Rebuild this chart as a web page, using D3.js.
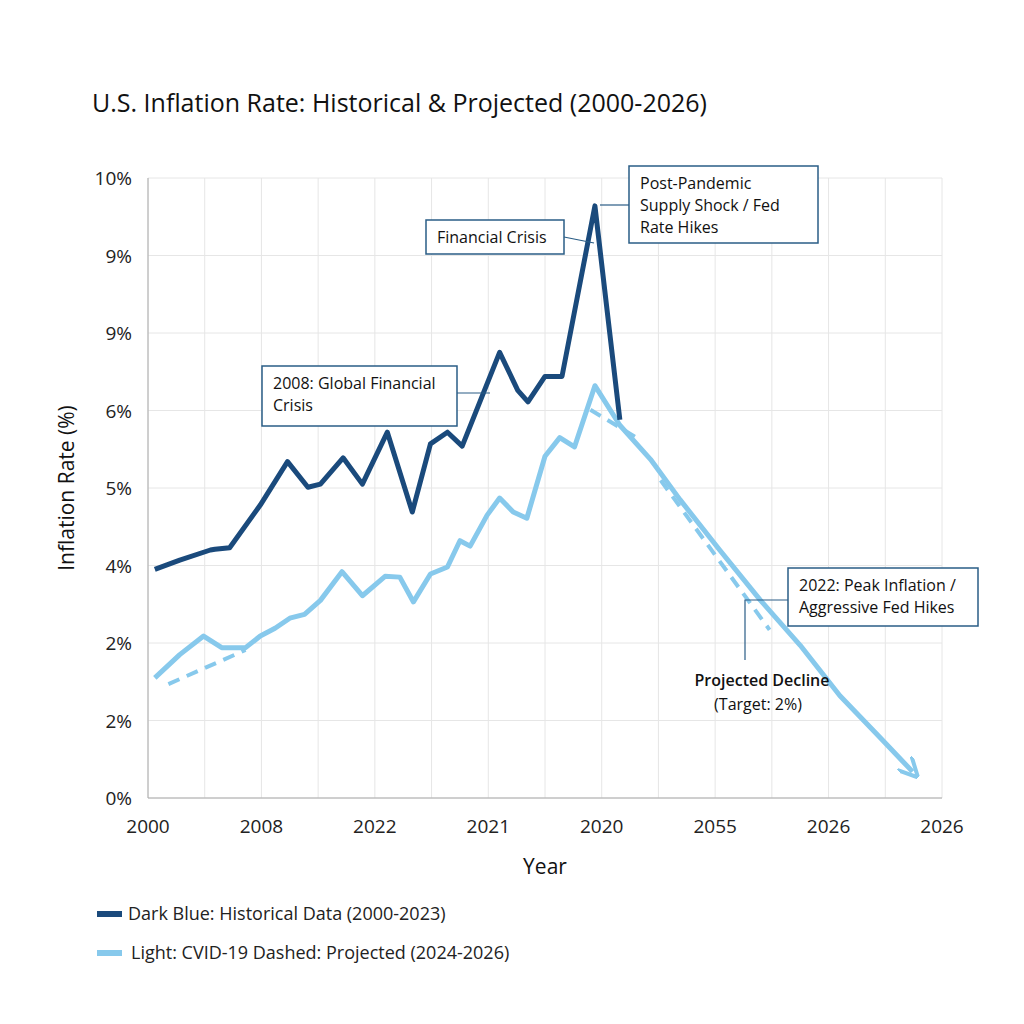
<!DOCTYPE html><html><head><meta charset="utf-8"><script src="https://cdn.jsdelivr.net/npm/d3@7"></script>
<style>body{margin:0;background:#fff;font-family:"Open Sans",sans-serif}</style></head><body><svg id="c" width="1024" height="1024"></svg>
<script>
const yTickLabels=["0%","2%","2%","4%","5%","6%","9%","9%","10%"];
const xTickLabels=["2000","2008","2022","2021","2020","2055","2026","2026"];
// x in tick-index units, y in tick-index units
const histX=[0.06,0.28,0.55,0.59,0.72,0.99,1.23,1.41,1.52,1.72,1.89,2.11,2.33,2.49,2.64,2.77,3.10,3.26,3.35,3.50,3.65,3.94,4.16];
const histY=[2.95,3.07,3.2,3.21,3.23,3.78,4.34,4.01,4.05,4.39,4.05,4.72,3.69,4.57,4.72,4.54,5.75,5.26,5.11,5.44,5.44,7.64,4.88];
const projX=[0.06,0.28,0.49,0.65,0.86,0.99,1.12,1.25,1.38,1.52,1.71,1.89,2.09,2.22,2.34,2.49,2.64,2.75,2.84,2.99,3.10,3.22,3.34,3.50,3.63,3.76,3.94,4.16,4.43,4.69,5.04,5.40,5.75,6.10,6.46,6.74];
const projY=[1.55,1.85,2.09,1.94,1.94,2.09,2.19,2.32,2.37,2.55,2.92,2.61,2.86,2.85,2.53,2.89,2.98,3.32,3.25,3.65,3.87,3.69,3.61,4.41,4.65,4.53,5.32,4.81,4.37,3.85,3.2,2.55,1.97,1.32,0.77,0.34];
const dashSegs=[[[0.18,1.47],[0.86,1.91]],[[3.90,5.01],[4.34,4.62]],[[4.52,4.10],[5.48,2.17]]];
const svg=d3.select("#c");
const x=d3.scaleLinear().domain([0,7]).range([148,942]);
const y=d3.scaleLinear().domain([0,8]).range([798,178]);
const g=svg.append("g");
// grid
for(let i=0;i<=14;i++){g.append("line").attr("x1",x(i/2)).attr("x2",x(i/2)).attr("y1",178).attr("y2",798).attr("stroke","#e6e6e6");}
for(let i=0;i<=8;i++){g.append("line").attr("x1",148).attr("x2",942).attr("y1",y(i)).attr("y2",y(i)).attr("stroke","#e6e6e6");}
g.append("line").attr("x1",148).attr("x2",148).attr("y1",178).attr("y2",798).attr("stroke","#aaa");
g.append("line").attr("x1",148).attr("x2",942).attr("y1",798).attr("y2",798).attr("stroke","#aaa");
yTickLabels.forEach((t,i)=>g.append("text").attr("x",132).attr("y",y(i)+7).attr("text-anchor","end").attr("font-size",19).attr("fill","#222").text(t));
xTickLabels.forEach((t,i)=>g.append("text").attr("x",x(i)).attr("y",833).attr("text-anchor","middle").attr("font-size",19).attr("fill","#222").text(t));
svg.append("text").attr("x",92).attr("y",112).attr("font-size",25).attr("font-weight",500).attr("fill","#111").text("U.S. Inflation Rate: Historical & Projected (2000-2026)");
svg.append("text").attr("transform","translate(74,488) rotate(-90)").attr("text-anchor","middle").attr("font-size",21).attr("fill","#111").text("Inflation Rate (%)");
svg.append("text").attr("x",545).attr("y",874).attr("text-anchor","middle").attr("font-size",21).attr("fill","#111").text("Year");
const line=d3.line().x(d=>x(d[0])).y(d=>y(d[1]));
svg.append("defs").append("marker").attr("id","ar").attr("viewBox","0 0 10 10").attr("refX",6).attr("refY",5).attr("markerWidth",4).attr("markerHeight",4).attr("orient","auto").append("path").attr("d","M0,0L10,5L0,10").attr("fill","none").attr("stroke","#87c9ec").attr("stroke-width",2);
dashSegs.forEach(s=>svg.append("path").attr("d",line(s)).attr("stroke","#87c9ec").attr("stroke-width",4).attr("stroke-dasharray","12,8").attr("fill","none"));
svg.append("path").attr("d",line(projX.map((v,i)=>[v,projY[i]]))).attr("stroke","#87c9ec").attr("stroke-width",5).attr("fill","none").attr("stroke-linejoin","round").attr("marker-end","url(#ar)");
svg.append("path").attr("d",line(histX.map((v,i)=>[v,histY[i]]))).attr("stroke","#1a4a7c").attr("stroke-width",5).attr("fill","none").attr("stroke-linejoin","round");
function box(x0,y0,w,h,lines,fs,conn){
  svg.append("rect").attr("x",x0).attr("y",y0).attr("width",w).attr("height",h).attr("fill","#fff").attr("stroke","#2a5d86").attr("stroke-width",1.5);
  lines.forEach((t,i)=>svg.append("text").attr("x",x0+11).attr("y",y0+23+i*22).attr("font-size",fs).attr("fill","#111").text(t));
  if(conn) svg.append("path").attr("d",conn).attr("stroke","#2a5d86").attr("stroke-width",1.2).attr("fill","none");
}
box(426,220,138,34,["Financial Crisis"],16,"M564,237L594,243");
box(629,166,189,77,["Post-Pandemic","Supply Shock / Fed","Rate Hikes"],16,"M629,205L600,205");
box(262,366,195,60,["2008: Global Financial","Crisis"],16,"M457,393L490,393");
box(788,568,190,58,["2022: Peak Inflation /","Aggressive Fed Hikes"],16,"M788,600L745,600L745,660");
svg.append("text").attr("x",762).attr("y",686).attr("text-anchor","middle").attr("font-size",16).attr("font-weight",bold="600").attr("fill","#111").text("Projected Decline");
svg.append("text").attr("x",758).attr("y",710).attr("text-anchor","middle").attr("font-size",16).attr("fill","#111").text("(Target: 2%)");
svg.append("line").attr("x1",97).attr("x2",122).attr("y1",914).attr("y2",914).attr("stroke","#1a4a7c").attr("stroke-width",6);
svg.append("text").attr("x",128).attr("y",920).attr("font-size",18).attr("fill","#222").text("Dark Blue: Historical Data (2000-2023)");
svg.append("line").attr("x1",97).attr("x2",122).attr("y1",953).attr("y2",953).attr("stroke","#87c9ec").attr("stroke-width",6);
svg.append("text").attr("x",131).attr("y",959).attr("font-size",18).attr("fill","#222").text("Light: CVID-19 Dashed: Projected (2024-2026)");
</script></body></html>
